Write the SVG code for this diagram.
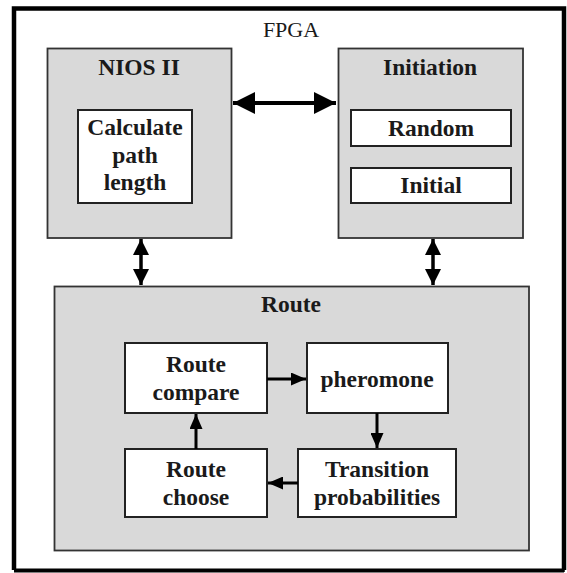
<svg xmlns="http://www.w3.org/2000/svg" width="567" height="573" viewBox="0 0 567 573">
<style>
.frame{fill:#fff;stroke:#000}
.block{fill:#d9d9d9;stroke:#333;stroke-width:1.8}
.inner{fill:#fff;stroke:#222;stroke-width:2}
.t{font-family:"Liberation Serif","Times New Roman",serif;font-weight:bold;font-size:23.5px;fill:#1a1a1a;text-anchor:middle}
.title{font-family:"Liberation Serif","Times New Roman",serif;font-size:22px;fill:#1a1a1a;text-anchor:middle}
.c{stroke:#000;fill:none}
</style>
<defs>
<marker id="big" markerUnits="userSpaceOnUse" markerWidth="22" markerHeight="22" refX="22" refY="11" orient="auto-start-reverse" viewBox="0 0 22 22"><path d="M0,0 L22,11 L0,22 Z" fill="#000"/></marker>
<marker id="mid" markerUnits="userSpaceOnUse" markerWidth="16" markerHeight="16" refX="16" refY="8" orient="auto-start-reverse" viewBox="0 0 16 16"><path d="M0,0 L16,8 L0,16 Z" fill="#000"/></marker>
<marker id="sm" markerUnits="userSpaceOnUse" markerWidth="15" markerHeight="13" refX="15" refY="6.5" orient="auto" viewBox="0 0 15 13"><path d="M0,0 L15,6.5 L0,13 Z" fill="#000"/></marker>
</defs>
<rect x="0" y="0" width="567" height="573" fill="#fff"/>
<g id="fpga">
<path d="M14,570 V8.5 H564 V570" fill="none" stroke="#000" stroke-width="4.5"/>
<line x1="14" y1="570.5" x2="564" y2="570.5" stroke="#000" stroke-width="4"/>
<line x1="563.5" y1="8" x2="563.5" y2="572" stroke="#000" stroke-width="2.5"/>
<text class="title" x="291" y="37">FPGA</text>
</g>
<g id="nios">
<rect class="block" x="47.5" y="48.5" width="184" height="189.5"/>
<text class="t" x="139" y="75">NIOS II</text>
</g>
<g id="calc">
<rect class="inner" x="78" y="110" width="114" height="93"/>
<text class="t" x="135" y="135">Calculate</text>
<text class="t" x="135" y="163">path</text>
<text class="t" x="135" y="190">length</text>
</g>
<g id="initiation">
<rect class="block" x="338.5" y="48.5" width="184.5" height="189.5"/>
<text class="t" x="430" y="75">Initiation</text>
</g>
<g id="random">
<rect class="inner" x="351" y="110" width="160" height="36"/>
<text class="t" x="431" y="136">Random</text>
</g>
<g id="initial">
<rect class="inner" x="351" y="168" width="160" height="35"/>
<text class="t" x="431" y="193">Initial</text>
</g>
<g id="route">
<rect class="block" x="54.5" y="286.5" width="474.5" height="264"/>
<text class="t" x="291" y="312">Route</text>
</g>
<g id="routecompare">
<rect class="inner" x="125" y="343" width="142" height="70"/>
<text class="t" x="196" y="372">Route</text>
<text class="t" x="196" y="400">compare</text>
</g>
<g id="pheromone">
<rect class="inner" x="307" y="343" width="141" height="70"/>
<text class="t" x="377" y="387">pheromone</text>
</g>
<g id="routechoose">
<rect class="inner" x="125" y="449" width="142" height="68"/>
<text class="t" x="196" y="477">Route</text>
<text class="t" x="196" y="505">choose</text>
</g>
<g id="transition">
<rect class="inner" x="298" y="449" width="158" height="68"/>
<text class="t" x="377" y="477">Transition</text>
<text class="t" x="377" y="505">probabilities</text>
</g>
<g id="connectors">
<line class="c" x1="233" y1="103" x2="336" y2="103" stroke-width="4" marker-start="url(#big)" marker-end="url(#big)"/>
<line class="c" x1="141" y1="239" x2="141" y2="285" stroke-width="3.5" marker-start="url(#mid)" marker-end="url(#mid)"/>
<line class="c" x1="433" y1="239" x2="433" y2="285" stroke-width="3.5" marker-start="url(#mid)" marker-end="url(#mid)"/>
<line class="c" x1="267" y1="379" x2="306" y2="379" stroke-width="3" marker-end="url(#sm)"/>
<line class="c" x1="377" y1="413" x2="377" y2="448" stroke-width="3" marker-end="url(#sm)"/>
<line class="c" x1="298" y1="483" x2="268" y2="483" stroke-width="3" marker-end="url(#sm)"/>
<line class="c" x1="196" y1="449" x2="196" y2="414" stroke-width="3" marker-end="url(#sm)"/>
</g>
</svg>
